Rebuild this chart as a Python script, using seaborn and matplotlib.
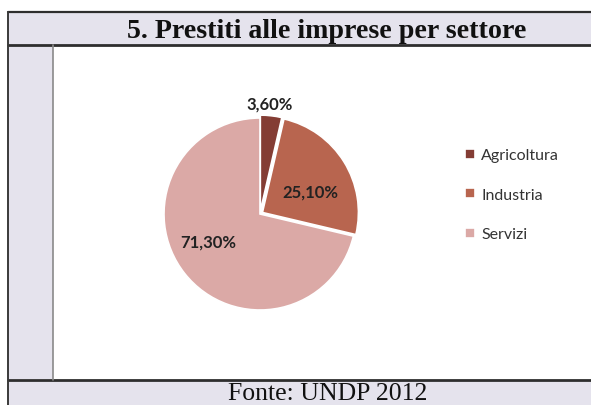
import matplotlib
matplotlib.use("Agg")
import matplotlib.pyplot as plt
from matplotlib.patches import Rectangle
from matplotlib.lines import Line2D
import seaborn as sns

# Loans to businesses by sector (share of total, %)
sectors = ["Agricoltura", "Industria", "Servizi"]
shares = [3.6, 25.1, 71.3]
colors = ["#843d34", "#b8654f", "#dba9a6"]

title = "5. Prestiti alle imprese per settore"
source = "Fonte: UNDP 2012"

sns.set_theme(style="white")
plt.rcParams["font.family"] = ["Lato", "DejaVu Sans"]

W, H = 591, 406
fig = plt.figure(figsize=(W / 100, H / 100), dpi=100)
fig.patch.set_facecolor("white")

# Frame: title band, left strip, white plot area, source band
bg = fig.add_axes([0, 0, 1, 1])
bg.set_xlim(0, W)
bg.set_ylim(H, 0)
bg.axis("off")
band = "#e5e3ed"
bg.add_patch(Rectangle((8, 13), W, 33, facecolor=band, edgecolor="none"))
bg.add_patch(Rectangle((8, 46), 45, 334, facecolor=band, edgecolor="none"))
bg.add_patch(Rectangle((8, 381), W, 30, facecolor=band, edgecolor="none"))
for y, lw in [(13, 1.6), (45.5, 2.0), (381, 2.0)]:
    bg.add_line(Line2D([8, W], [y, y], color="#2e2e2e", lw=lw))
bg.add_line(Line2D([8, 8], [13, H], color="#3a3a3a", lw=1.4))
bg.add_line(Line2D([53, 53], [46, 381], color="#8a8a8a", lw=1.2))
bg.text(327, 31, title, ha="center", va="center", fontsize=20.2,
        fontweight="bold", family=["Liberation Serif", "DejaVu Serif"], color="#111111")
bg.text(328, 405.5, source, ha="center", va="bottom", fontsize=18.5,
        family=["Liberation Serif", "DejaVu Serif"], color="#111111")

# Pie chart
cx, cy, side = 260, 215, 240
ax = fig.add_axes([(cx - side / 2) / W, 1 - (cy + side / 2) / H, side / W, side / H])
wedges, _, autotexts = ax.pie(
    shares, colors=colors, startangle=90, counterclock=False,
    explode=[0.03, 0.03, 0.0],
    autopct=lambda p: f"{p:.2f}%".replace(".", ","), pctdistance=0.6,
    wedgeprops=dict(edgecolor="white", linewidth=1.2),
    textprops=dict(fontsize=12, fontweight="bold", color="#222222"),
)
label_pos = [(0.10, 1.15), (0.52, 0.23), (-0.54, -0.29)]
for t, pos in zip(autotexts, label_pos):
    t.set_position(pos)
ax.set_xlim(-1.25, 1.25)
ax.set_ylim(-1.25, 1.25)
ax.set_aspect("equal")
ax.axis("off")

leg = fig.legend(wedges, sectors, loc="upper left",
                 bbox_to_anchor=(451 / W, 1 - 135 / H), frameon=False,
                 fontsize=11.5, handlelength=0.6, handleheight=0.6,
                 handletextpad=0.4, labelspacing=1.6, labelcolor="#333333")

fig.savefig("out.png", dpi=100)
